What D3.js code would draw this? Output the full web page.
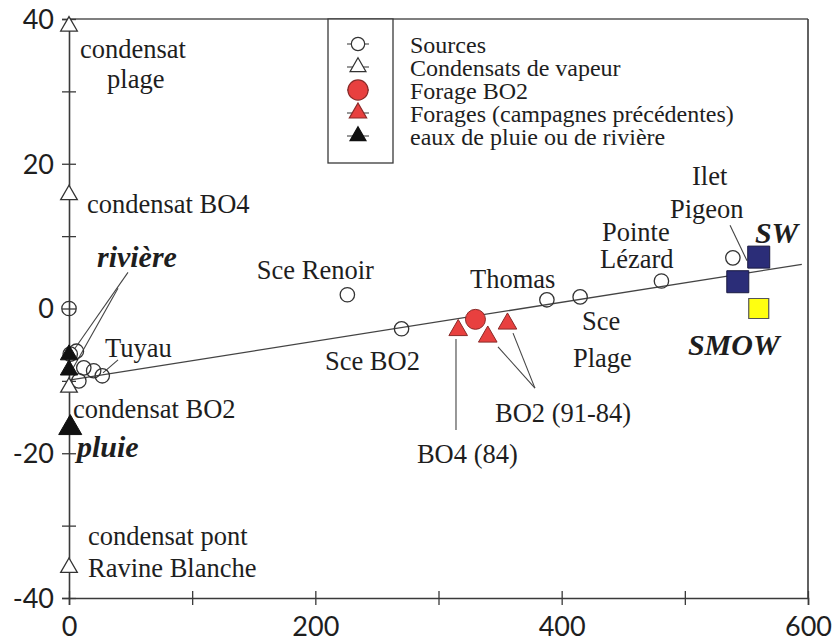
<!DOCTYPE html>
<html>
<head>
<meta charset="utf-8">
<script src="https://cdn.jsdelivr.net/npm/d3@7"></script>
<style>
  html, body { margin: 0; padding: 0; background: #fff; }
  svg { display: block; }
</style>
</head>
<body>
<svg id="chart" width="838" height="644"></svg>
<script>
// ---- data ----
// Sources (open circles)
const sourcesX = [0, 1, 6, 12, 20, 27, 8, 226, 270, 388, 415, 481, 539];
const sourcesY = [0, -6.3, -5.9, -8.2, -8.6, -9.3, -10.0, 1.9, -2.8, 1.2, 1.6, 3.8, 7.0];
// Condensats de vapeur (open triangles)
const condX = [0, 0, 0, 0];
const condY = [39, 15.7, -10.9, -35.8];
// Forage BO2 (red circle)
const bo2X = [330];
const bo2Y = [-1.5];
// Forages, campagnes précédentes (red triangles)
const foragesX = [316, 340, 356];
const foragesY = [-3.0, -3.9, -2.1];
// Eaux de pluie ou de rivière (black triangles)
const pluieX = [0, 0, 1];
const pluieY = [-6.4, -8.5, -16.5];
// Sea water and SMOW reference (squares)
const swX = [543, 560];
const swY = [3.7, 7.1];
const smowX = [560];
const smowY = [0];
// Fitted mixing line
const fitIntercept = -9.9;
const fitSlope = 0.0269;
const fitXRange = [0, 595];

// Axis ticks
const xTicks = [0, 100, 200, 300, 400, 500, 600];
const xTickLabels = ["0", "", "200", "", "400", "", "600"];
const yTicks = [-40, -30, -20, -10, 0, 10, 20, 30, 40];
const yTickLabels = ["-40", "", "-20", "", "0", "", "20", "", "40"];

// Legend entries
const legendLabels = ["Sources", "Condensats de vapeur", "Forage BO2",
  "Forages (campagnes précédentes)", "eaux de pluie ou de rivière"];

// Point labels (anchored in data units)
const annotations = [
  { t: "condensat", x: 8.9, y: 34.6 },
  { t: "plage", x: 30.9, y: 30.5 },
  { t: "condensat BO4", x: 14.6, y: 13.2 },
  { t: "rivière", x: 22.7, y: 5.7, em: true },
  { t: "Sce Renoir", x: 152.5, y: 4.1 },
  { t: "Tuyau", x: 29.2, y: -6.7 },
  { t: "condensat BO2", x: 3.2, y: -15.1 },
  { t: "pluie", x: 6.5, y: -20.5, em: true },
  { t: "condensat pont", x: 15.4, y: -32.7 },
  { t: "Ravine Blanche", x: 15.4, y: -37.1 },
  { t: "Sce BO2", x: 207.8, y: -8.5 },
  { t: "Thomas", x: 325.6, y: 2.8 },
  { t: "BO4 (84)", x: 282.5, y: -21.3 },
  { t: "BO2 (91-84)", x: 345.9, y: -15.7 },
  { t: "Sce", x: 416.5, y: -3.0 },
  { t: "Plage", x: 409.2, y: -8.1 },
  { t: "Pointe", x: 432.7, y: 9.3 },
  { t: "Lézard", x: 431.1, y: 5.6 },
  { t: "Ilet", x: 505.8, y: 17.1 },
  { t: "Pigeon", x: 487.9, y: 12.5 },
  { t: "SW", x: 556.9, y: 9.0, em: true },
  { t: "SMOW", x: 502.5, y: -6.4, em: true }
];
// Leader lines from labels to points
const leaders = [
  [47.9, 5.0, 4.9, -5.5],
  [39.8, 2.8, 2.4, -8.5],
  [39.8, -7.1, 27.6, -8.9],
  [314.2, -4.2, 314.2, -16.8],
  [378.3, -11.0, 348.3, -5.3],
  [378.3, -11.0, 360.5, -3.4],
  [536.7, 11.5, 550.5, 6.6]
];

// ---- drawing ----
const svg = d3.select("#chart");
const x = d3.scaleLinear().domain([0, 600]).range([69, 808]);
const y = d3.scaleLinear().domain([-40, 40]).range([598, 19]);

const ink = "#1e1e1e";
const lineCol = "#3a3a3a";
const serif = "'Liberation Serif', 'Times New Roman', serif";
const sans = "Lato, 'Liberation Sans', sans-serif";

// frame (top and right)
svg.append("line").attr("x1", x(0)).attr("x2", x(600)).attr("y1", y(40)).attr("y2", y(40))
  .attr("stroke", "#555").attr("stroke-width", 1.4);
svg.append("line").attr("x1", x(600)).attr("x2", x(600)).attr("y1", y(40)).attr("y2", y(-40))
  .attr("stroke", lineCol).attr("stroke-width", 1.6);

// x axis
const xAxis = svg.append("g").attr("transform", `translate(0,${y(-40)})`)
  .call(d3.axisBottom(x).tickValues(xTicks).tickSizeOuter(0).tickSize(7)
    .tickFormat((d, i) => xTickLabels[i]));
xAxis.select(".domain").attr("stroke", lineCol).attr("stroke-width", 1.6);
xAxis.selectAll(".tick line").attr("y1", -7).attr("y2", 7).attr("stroke", lineCol).attr("stroke-width", 1.3);
xAxis.selectAll(".tick text").attr("y", 38).attr("dy", 0)
  .attr("font-family", sans).attr("font-size", 27).attr("fill", ink);

// y axis
const yAxis = svg.append("g").attr("transform", `translate(${x(0)},0)`)
  .call(d3.axisLeft(y).tickValues(yTicks).tickSizeOuter(0).tickSize(7)
    .tickFormat((d, i) => yTickLabels[i]));
yAxis.select(".domain").attr("stroke", lineCol).attr("stroke-width", 1.6);
yAxis.selectAll(".tick line").attr("x1", -7).attr("x2", 7).attr("stroke", lineCol).attr("stroke-width", 1.3);
yAxis.selectAll(".tick text").attr("x", -15).attr("dy", "0.35em")
  .attr("font-family", sans).attr("font-size", 27).attr("fill", ink);

// fitted line
svg.append("path")
  .datum(fitXRange)
  .attr("d", d3.line().x(d => x(d)).y(d => y(fitIntercept + fitSlope * d)))
  .attr("stroke", "#444").attr("stroke-width", 1.3).attr("fill", "none");

// leader lines
svg.append("g").selectAll("line").data(leaders).join("line")
  .attr("x1", d => x(d[0])).attr("y1", d => y(d[1]))
  .attr("x2", d => x(d[2])).attr("y2", d => y(d[3]))
  .attr("stroke", "#444").attr("stroke-width", 1.1);

const zip = (xs, ys) => xs.map((v, i) => [v, ys[i]]);
const sym = (type, size) => d3.symbol().type(type).size(size)();

// sources
svg.append("g").selectAll("circle").data(zip(sourcesX, sourcesY)).join("circle")
  .attr("cx", d => x(d[0])).attr("cy", d => y(d[1])).attr("r", 7.2)
  .attr("fill", "none").attr("stroke", "#333").attr("stroke-width", 1.3);

// condensats
svg.append("g").selectAll("path").data(zip(condX, condY)).join("path")
  .attr("transform", d => `translate(${x(d[0])},${y(d[1])})`)
  .attr("d", sym(d3.symbolTriangle, 120))
  .attr("fill", "#fff").attr("stroke", "#333").attr("stroke-width", 1.3);

// forages (red triangles)
svg.append("g").selectAll("path").data(zip(foragesX, foragesY)).join("path")
  .attr("transform", d => `translate(${x(d[0])},${y(d[1])})`)
  .attr("d", sym(d3.symbolTriangle, 150))
  .attr("fill", "#e8403f").attr("stroke", "#8a2a28").attr("stroke-width", 1);

// forage BO2 (red circle)
svg.append("g").selectAll("circle").data(zip(bo2X, bo2Y)).join("circle")
  .attr("cx", d => x(d[0])).attr("cy", d => y(d[1])).attr("r", 10)
  .attr("fill", "#e8403f").attr("stroke", "#8a2a28").attr("stroke-width", 1);

// rain / river (black triangles); the rain sample drawn larger
svg.append("g").selectAll("path").data(zip(pluieX, pluieY)).join("path")
  .attr("transform", d => `translate(${x(d[0])},${y(d[1])})`)
  .attr("d", (d, i) => sym(d3.symbolTriangle, i === 2 ? 230 : 130))
  .attr("fill", "#111").attr("stroke", "#111").attr("stroke-width", 1);

// sea water squares
svg.append("g").selectAll("path").data(zip(swX, swY)).join("path")
  .attr("transform", d => `translate(${x(d[0])},${y(d[1])})`)
  .attr("d", sym(d3.symbolSquare, 484))
  .attr("fill", "#2b2d78").attr("stroke", "#1a1a40").attr("stroke-width", 1);
svg.append("g").selectAll("path").data(zip(smowX, smowY)).join("path")
  .attr("transform", d => `translate(${x(d[0])},${y(d[1])})`)
  .attr("d", sym(d3.symbolSquare, 400))
  .attr("fill", "#ffff10").attr("stroke", "#555").attr("stroke-width", 1.2);

// labels
svg.append("g").selectAll("text").data(annotations).join("text")
  .attr("x", d => x(d.x)).attr("y", d => y(d.y))
  .attr("font-family", serif)
  .attr("font-size", d => d.em ? 30 : 26.5)
  .attr("font-weight", d => d.em ? "bold" : "normal")
  .attr("font-style", d => d.em ? "italic" : "normal")
  .attr("fill", ink)
  .text(d => d.t);

// legend: symbol column boxed, text block beside it
const lg = svg.append("g");
lg.append("rect").attr("x", 328).attr("y", y(40)).attr("width", 65).attr("height", 144)
  .attr("fill", "#fff").attr("stroke", lineCol).attr("stroke-width", 1.3);
const legendSyms = [
  { s: d3.symbolCircle, size: 140, fill: "#fff", stroke: "#333" },
  { s: d3.symbolTriangle, size: 110, fill: "#fff", stroke: "#333" },
  { s: d3.symbolCircle, size: 320, fill: "#e8403f", stroke: "#8a2a28" },
  { s: d3.symbolTriangle, size: 130, fill: "#e8403f", stroke: "#8a2a28" },
  { s: d3.symbolTriangle, size: 110, fill: "#111", stroke: "#111" }
];
const rowGap = 23;
const rowY = i => 53 + i * rowGap;
legendLabels.forEach((lab, i) => {
  const cy = rowY(i) - 9;
  lg.append("line").attr("x1", 347).attr("x2", 369).attr("y1", cy).attr("y2", cy)
    .attr("stroke", "#444").attr("stroke-width", 1.1);
  lg.append("path").attr("transform", `translate(358,${cy})`)
    .attr("d", sym(legendSyms[i].s, legendSyms[i].size))
    .attr("fill", legendSyms[i].fill).attr("stroke", legendSyms[i].stroke).attr("stroke-width", 1.2);
});
lg.append("text").attr("y", rowY(0))
  .attr("font-family", serif).attr("font-size", 24).attr("fill", ink)
  .selectAll("tspan").data(legendLabels).join("tspan")
  .attr("x", 410).attr("dy", (d, i) => i === 0 ? 0 : rowGap)
  .text(d => d);
</script>
</body>
</html>
